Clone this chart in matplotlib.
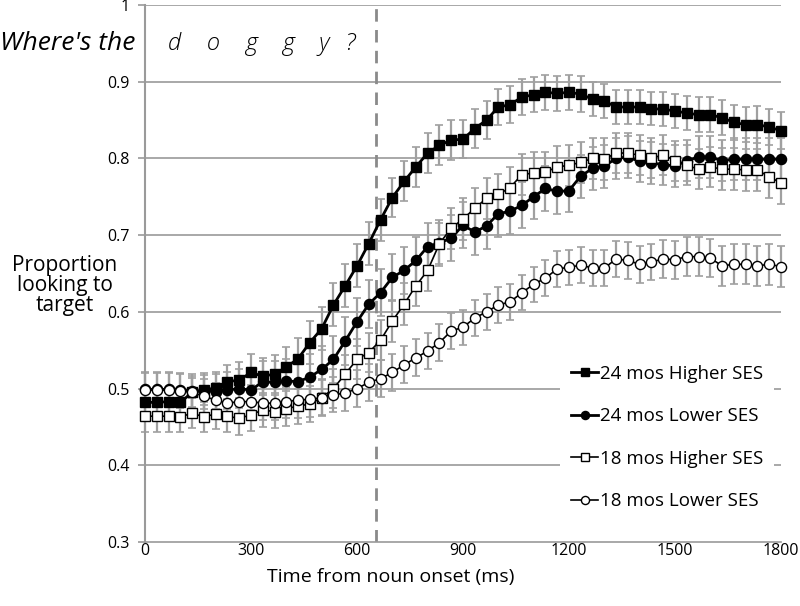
import numpy as np
import matplotlib
matplotlib.use("Agg")
import matplotlib.pyplot as plt
from matplotlib.ticker import FuncFormatter

plt.rcParams['font.family'] = ['Open Sans', 'DejaVu Sans']

# 30 Hz sampling from noun onset (55 frames, 0-1800 ms)
time_ms = np.linspace(0, 1800, 55)
noun_onset_mark = 653  # dashed line (ms)

labels = ['24 mos Higher SES', '24 mos Lower SES', '18 mos Higher SES', '18 mos Lower SES']

hi24 = [0.482, 0.482, 0.483, 0.482, 0.495, 0.498, 0.501, 0.509, 0.511, 0.521,
        0.516, 0.519, 0.528, 0.539, 0.560, 0.578, 0.609, 0.634, 0.660, 0.689,
        0.720, 0.749, 0.770, 0.789, 0.807, 0.817, 0.824, 0.825, 0.839, 0.850,
        0.867, 0.870, 0.880, 0.883, 0.886, 0.885, 0.886, 0.884, 0.877, 0.875,
        0.867, 0.867, 0.867, 0.865, 0.864, 0.862, 0.859, 0.857, 0.857, 0.853,
        0.847, 0.844, 0.844, 0.841, 0.836]
lo24 = [0.499, 0.499, 0.499, 0.498, 0.497, 0.497, 0.496, 0.498, 0.500, 0.498,
        0.509, 0.508, 0.510, 0.509, 0.515, 0.525, 0.538, 0.562, 0.587, 0.610,
        0.625, 0.645, 0.654, 0.667, 0.685, 0.690, 0.696, 0.713, 0.704, 0.712,
        0.728, 0.731, 0.739, 0.750, 0.761, 0.757, 0.758, 0.777, 0.787, 0.790,
        0.800, 0.802, 0.796, 0.794, 0.792, 0.790, 0.797, 0.802, 0.802, 0.797,
        0.799, 0.799, 0.799, 0.799, 0.799]
hi18 = [0.464, 0.464, 0.464, 0.463, 0.468, 0.463, 0.467, 0.464, 0.461, 0.466,
        0.472, 0.470, 0.474, 0.477, 0.480, 0.488, 0.500, 0.519, 0.538, 0.547,
        0.563, 0.588, 0.610, 0.634, 0.654, 0.689, 0.709, 0.721, 0.735, 0.748,
        0.753, 0.762, 0.779, 0.781, 0.782, 0.789, 0.791, 0.795, 0.800, 0.799,
        0.807, 0.807, 0.804, 0.800, 0.805, 0.797, 0.791, 0.786, 0.789, 0.786,
        0.786, 0.785, 0.785, 0.776, 0.768]
lo18 = [0.498, 0.498, 0.498, 0.497, 0.495, 0.490, 0.485, 0.481, 0.483, 0.483,
        0.481, 0.481, 0.483, 0.485, 0.486, 0.488, 0.492, 0.494, 0.500, 0.508,
        0.513, 0.521, 0.531, 0.540, 0.549, 0.560, 0.575, 0.580, 0.592, 0.600,
        0.609, 0.613, 0.625, 0.636, 0.644, 0.656, 0.658, 0.661, 0.657, 0.657,
        0.669, 0.667, 0.662, 0.665, 0.669, 0.668, 0.672, 0.672, 0.670, 0.660,
        0.662, 0.662, 0.660, 0.662, 0.659]

# standard errors (half bar length)
hi24_err = [0.018, 0.018, 0.018, 0.018, 0.019, 0.020, 0.021, 0.022, 0.023, 0.024,
            0.024, 0.025, 0.026, 0.027, 0.028, 0.028, 0.028, 0.028, 0.028, 0.028,
            0.027, 0.026, 0.026, 0.026, 0.026, 0.026, 0.026, 0.025, 0.025, 0.025,
            0.024, 0.024, 0.024, 0.023, 0.023, 0.023, 0.023, 0.023, 0.022, 0.022,
            0.022, 0.022, 0.022, 0.022, 0.022, 0.022, 0.022, 0.023, 0.023, 0.023,
            0.023, 0.023, 0.024, 0.024, 0.024]
lo24_err = [0.022, 0.022, 0.022, 0.022, 0.022, 0.023, 0.023, 0.024, 0.025, 0.026,
            0.027, 0.028, 0.029, 0.030, 0.030, 0.031, 0.031, 0.031, 0.031, 0.031,
            0.031, 0.031, 0.031, 0.031, 0.031, 0.030, 0.030, 0.030, 0.030, 0.030,
            0.030, 0.030, 0.030, 0.029, 0.029, 0.029, 0.028, 0.028, 0.028, 0.028,
            0.027, 0.027, 0.027, 0.027, 0.027, 0.027, 0.027, 0.027, 0.027, 0.027,
            0.027, 0.027, 0.027, 0.027, 0.027]
hi18_err = [0.020, 0.020, 0.020, 0.020, 0.020, 0.020, 0.020, 0.021, 0.021, 0.021,
            0.022, 0.022, 0.023, 0.023, 0.024, 0.024, 0.025, 0.025, 0.026, 0.026,
            0.026, 0.027, 0.027, 0.027, 0.027, 0.027, 0.027, 0.027, 0.027, 0.027,
            0.027, 0.027, 0.027, 0.027, 0.027, 0.027, 0.027, 0.027, 0.027, 0.027,
            0.026, 0.026, 0.026, 0.026, 0.026, 0.026, 0.026, 0.026, 0.026, 0.027,
            0.027, 0.027, 0.027, 0.027, 0.028]
lo18_err = [0.022, 0.022, 0.022, 0.022, 0.022, 0.022, 0.022, 0.022, 0.022, 0.022,
            0.022, 0.022, 0.022, 0.023, 0.023, 0.023, 0.023, 0.023, 0.024, 0.024,
            0.024, 0.024, 0.024, 0.024, 0.024, 0.024, 0.023, 0.023, 0.023, 0.023,
            0.023, 0.023, 0.023, 0.023, 0.023, 0.023, 0.023, 0.023, 0.023, 0.023,
            0.023, 0.024, 0.024, 0.024, 0.025, 0.025, 0.025, 0.025, 0.025, 0.026,
            0.026, 0.026, 0.026, 0.027, 0.027]

series = [hi24, lo24, hi18, lo18]
errors = [hi24_err, lo24_err, hi18_err, lo18_err]
markers = ['s', 'o', 's', 'o']
faces = ['black', 'black', 'white', 'white']
widths = [2.0, 2.0, 1.2, 1.2]

fig = plt.figure(figsize=(8, 6.06), dpi=100)
ax = fig.add_axes([145 / 800, 1 - 542 / 606, 636 / 800, 537 / 606])

grid_col = '#9a9a9a'
for y in [0.4, 0.5, 0.6, 0.7, 0.8, 0.9, 1.0]:
    ax.axhline(y, color=grid_col, lw=1.2, zorder=0)

for vals, err, mk, fc, lw, lab in zip(series, errors, markers, faces, widths, labels):
    ax.errorbar(time_ms, vals, yerr=err, fmt='none', ecolor='#a0a0a0', elinewidth=1.6,
                capsize=3, capthick=1.2, zorder=2, clip_on=False)
    ax.plot(time_ms, vals, color='black', lw=lw, marker=mk, markersize=6.8 if mk == 's' else 7.3,
            markerfacecolor=fc, markeredgecolor='black', markeredgewidth=1.0,
            label=lab, zorder=3, clip_on=False)

ax.axvline(noun_onset_mark, color='#8a8a8a', lw=2, dashes=(4.5, 3), zorder=1)

ax.set_xlim(0, 1800)
ax.set_ylim(0.3, 1.0)
ax.set_xticks(range(0, 1801, 300))
ax.set_yticks([0.3, 0.4, 0.5, 0.6, 0.7, 0.8, 0.9, 1.0])
ax.yaxis.set_major_formatter(FuncFormatter(lambda v, p: '1' if abs(v - 1) < 1e-9 else f'{v:.1f}'))
ax.tick_params(axis='x', length=0, pad=1, labelsize=11.5)
ax.tick_params(axis='y', length=5, color=grid_col, width=1.2, pad=6, labelsize=11.5)
for s in ['top', 'right']:
    ax.spines[s].set_visible(False)
ax.spines['left'].set_color(grid_col)
ax.spines['left'].set_linewidth(1.5)
ax.spines['bottom'].set_color(grid_col)
ax.spines['bottom'].set_linewidth(1.2)

# axis titles placed like the original (x title is left of axes centre)
fig.text(391 / 800, 1 - 577 / 606, 'Time from noun onset (ms)', fontsize=14, ha='center',
         va='center')
ylabel_lines = ['Proportion', 'looking to', 'target']
for k, line in enumerate(ylabel_lines):
    fig.text(65 / 800, 1 - (265 + 20 * k) / 606, line, ha='center', va='center', fontsize=15)

fig.text(0, 1 - 50 / 606, "Where's the", fontsize=19, style='italic', ha='left',
         va='baseline')
word_letters = ['d', 'o', 'g', 'g', 'y', '?']
letter_x = [174, 213, 251, 288, 324, 350]
for ch, lx in zip(word_letters, letter_x):
    fig.text(lx / 800, 1 - 50 / 606, ch, fontsize=17, style='italic', weight='light',
             ha='center', va='baseline')

leg = ax.legend(loc='upper left', bbox_to_anchor=(0.638, 0.368), frameon=True, fontsize=13.5,
                handlelength=1.4, handletextpad=0.12, labelspacing=1.3, borderpad=0.6,
                markerscale=0.8, fancybox=False)
leg.get_frame().set_edgecolor('none')
leg.get_frame().set_facecolor('white')
leg.get_frame().set_alpha(1)
leg.set_zorder(5)

fig.savefig('out.png', dpi=100)
